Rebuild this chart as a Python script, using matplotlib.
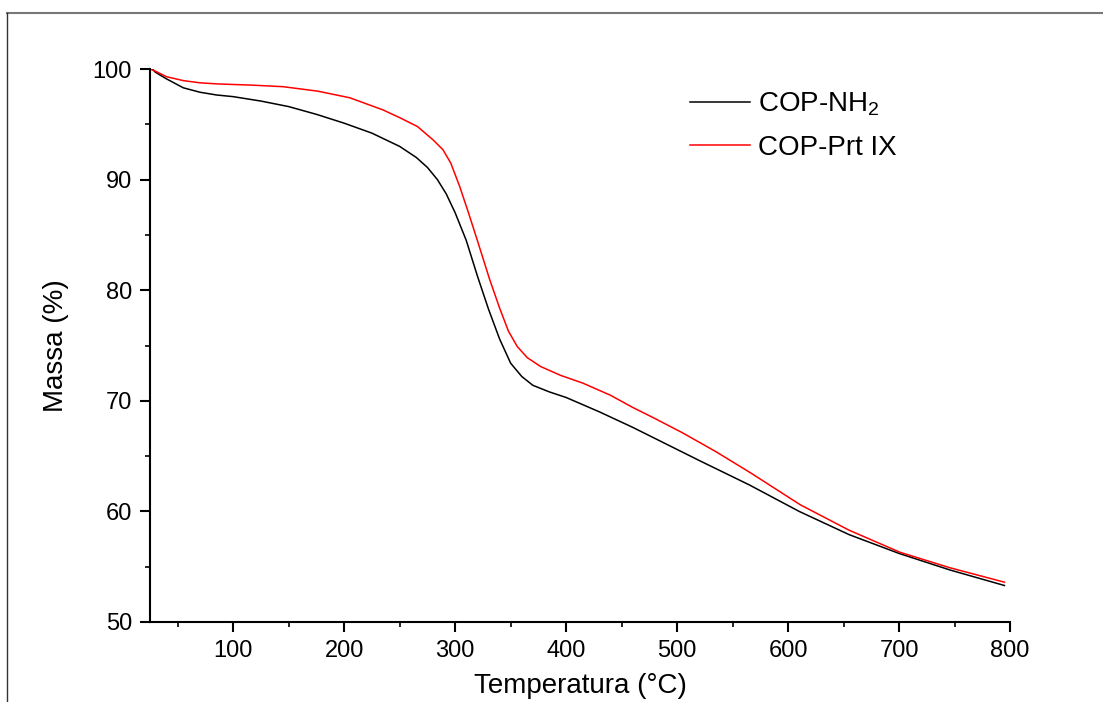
import matplotlib
matplotlib.use('Agg')
import matplotlib.pyplot as plt
from matplotlib.lines import Line2D
from matplotlib.ticker import MultipleLocator

plt.rcParams['font.family'] = ['Liberation Sans', 'DejaVu Sans']
plt.rcParams['mathtext.fontset'] = 'custom'
plt.rcParams['mathtext.rm'] = 'Liberation Sans'
plt.rcParams['mathtext.it'] = 'Liberation Sans'

# COP-NH2 curve (temperature in C, mass in %)
temp_nh2 = [27, 30, 40, 55, 70, 85, 100, 125, 150, 175, 200, 225, 250, 265, 275, 284,
            292, 300, 310, 320, 330, 340, 350, 360, 370, 385, 400, 430, 460, 490,
            520, 565, 610, 655, 700, 746, 795]
mass_nh2 = [100, 99.7, 99.1, 98.3, 97.9, 97.65, 97.5, 97.1, 96.6, 95.9, 95.1, 94.2,
            93.0, 92.0, 91.1, 90.0, 88.7, 87.0, 84.5, 81.3, 78.3, 75.6, 73.4, 72.2,
            71.4, 70.8, 70.3, 69.0, 67.6, 66.1, 64.6, 62.4, 60.0, 57.9, 56.2, 54.7, 53.3]

# COP-Prt IX curve
temp_prt = [25, 30, 40, 55, 70, 86, 100, 115, 145, 176, 205, 235, 250, 266, 280,
            289, 296, 304, 312, 320, 331, 340, 348, 356, 365, 377, 395, 415, 440,
            460, 480, 505, 535, 566, 611, 655, 701, 746, 795]
mass_prt = [100, 99.8, 99.3, 98.95, 98.75, 98.65, 98.6, 98.55, 98.4, 98.0, 97.4,
            96.3, 95.6, 94.8, 93.6, 92.7, 91.5, 89.4, 87.0, 84.5, 81.0, 78.4, 76.3,
            74.9, 73.9, 73.1, 72.3, 71.6, 70.5, 69.4, 68.4, 67.1, 65.4, 63.5, 60.6,
            58.3, 56.3, 54.9, 53.6]

labels = ['COP-NH$_2$', 'COP-Prt IX']

fig = plt.figure(figsize=(11.03, 7.02), dpi=100)
ax = fig.add_axes([150/1103, 1 - 622/702, (1010 - 150)/1103, (622 - 69)/702])

ax.plot(temp_nh2, mass_nh2, color='black', lw=1.1, label=labels[0])
ax.plot(temp_prt, mass_prt, color='red', lw=1.1, label=labels[1])

ax.set_xlim(25, 800)
ax.set_ylim(50, 100)
ax.xaxis.set_major_locator(MultipleLocator(100))
ax.xaxis.set_minor_locator(MultipleLocator(50))
ax.yaxis.set_major_locator(MultipleLocator(10))
ax.yaxis.set_minor_locator(MultipleLocator(5))

for s in ['top', 'right']:
    ax.spines[s].set_visible(False)
for s in ['left', 'bottom']:
    ax.spines[s].set_linewidth(1.5)

ax.tick_params(which='major', direction='out', length=7, width=1.5, labelsize=17, pad=6)
ax.tick_params(which='minor', direction='out', length=3.5, width=1.2)

ax.set_xlabel('Temperatura (°C)', fontsize=20, labelpad=8)
ax.set_ylabel('Massa (%)', fontsize=20, labelpad=17)

ax.legend(loc='upper left', bbox_to_anchor=(676/1103, 1 - 77/702),
          bbox_transform=fig.transFigure, frameon=False, fontsize=20,
          handlelength=2.15, handletextpad=0.3, labelspacing=0.6, borderpad=0)

# outer frame lines (top and left only)
fig.add_artist(Line2D([7/1103, 1], [1 - 12.5/702, 1 - 12.5/702], color='#777777', lw=1.5,
                      transform=fig.transFigure))
fig.add_artist(Line2D([7/1103, 7/1103], [0, 1 - 12.5/702], color='#333333', lw=1.0,
                      transform=fig.transFigure))

fig.savefig('out.png', dpi=100)
